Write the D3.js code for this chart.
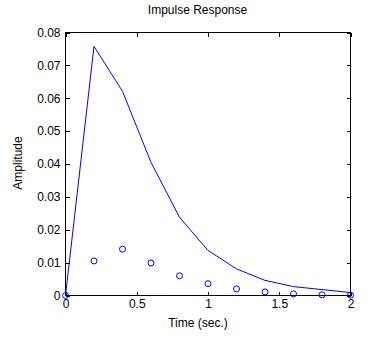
<!DOCTYPE html>
<html><head><meta charset="utf-8">
<script src="https://cdn.jsdelivr.net/npm/d3@7"></script>
<style>
body{margin:0;background:#fff;}
svg text{font-family:"Liberation Sans",Arial,Helvetica,sans-serif;font-size:12px;fill:#000;}
</style></head><body>
<svg id="c" width="389" height="337"></svg>
<script>
const time = [0, 0.2, 0.4, 0.6, 0.8, 1.0, 1.2, 1.4, 1.6, 1.8, 2.0];
const lineAmp = [0, 0.0758, 0.0621, 0.0405, 0.0238, 0.0137, 0.0081, 0.0046, 0.0027, 0.0018, 0.0009];
const circleAmp = [0, 0.0105, 0.0141, 0.0099, 0.0060, 0.0036, 0.0020, 0.0011, 0.0005, 0.0002, 0.0001];
const xTicks = [0, 0.5, 1, 1.5, 2];
const yTicks = [0, 0.01, 0.02, 0.03, 0.04, 0.05, 0.06, 0.07, 0.08];
const title = "Impulse Response";
const xLabel = "Time (sec.)";
const yLabel = "Amplitude";

const svg = d3.select("#c");
const L = 65.5, R = 350.5, T = 32.5, B = 295.5;
const x = d3.scaleLinear().domain([0, 2]).range([L, R]);
const y = d3.scaleLinear().domain([0, 0.08]).range([B, T]);

const fmtY = d => d === 0 ? "0" : d.toFixed(2);
const fmtX = d => String(d);

function style(g){
  g.select(".domain").remove();
  g.selectAll("line").attr("stroke","#000").attr("shape-rendering","crispEdges");
  g.selectAll("text").attr("font-size",null).attr("font-family",null);
}
svg.append("g").attr("transform",`translate(0,${B})`)
  .call(d3.axisBottom(x).tickValues(xTicks).tickFormat(fmtX).tickSize(-4).tickPadding(4)).call(style);
svg.append("g").attr("transform",`translate(0,${T})`)
  .call(d3.axisTop(x).tickValues(xTicks).tickFormat("").tickSize(-4)).call(style);
svg.append("g").attr("transform",`translate(${L},0)`)
  .call(d3.axisLeft(y).tickValues(yTicks).tickFormat(fmtY).tickSize(-4).tickPadding(5)).call(style);
svg.append("g").attr("transform",`translate(${R},0)`)
  .call(d3.axisRight(y).tickValues(yTicks).tickFormat("").tickSize(-4)).call(style);

svg.append("rect").attr("x",L).attr("y",T).attr("width",R-L).attr("height",B-T)
  .attr("fill","none").attr("stroke","#000").attr("shape-rendering","crispEdges");

const pts = time.map((t,i)=>({t, a:lineAmp[i], c:circleAmp[i]}));
svg.append("path").datum(pts)
  .attr("d", d3.line().x(d=>x(d.t)).y(d=>y(d.a)))
  .attr("fill","none").attr("stroke","#0000ff").attr("stroke-width",1);
svg.selectAll("circle.m").data(pts).join("circle")
  .attr("cx",d=>x(d.t)).attr("cy",d=>y(d.c)).attr("r",3)
  .attr("fill","none").attr("stroke","#0000ff").attr("stroke-width",1);

svg.append("text").attr("x",197.5).attr("y",13.5).attr("text-anchor","middle").text(title);
svg.append("text").attr("x",198).attr("y",327).attr("text-anchor","middle").text(xLabel);
svg.append("text").attr("transform",`translate(22,163) rotate(-90)`).attr("text-anchor","middle").text(yLabel);
</script></body></html>
